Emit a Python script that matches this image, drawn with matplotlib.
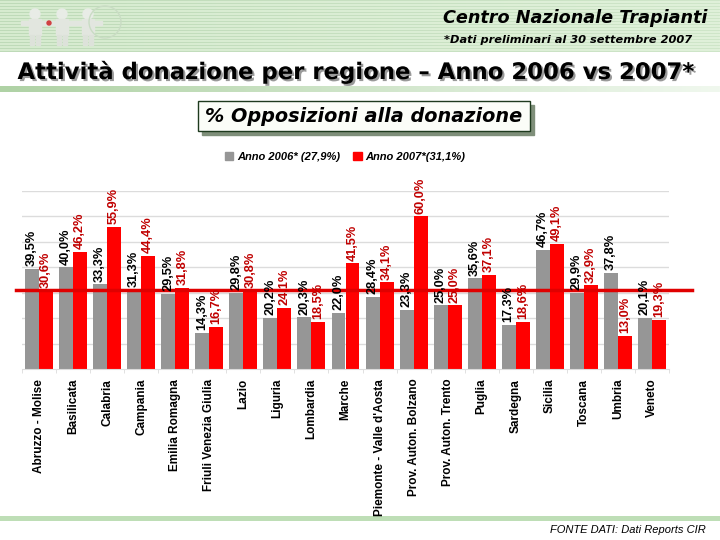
import numpy as np
import matplotlib

matplotlib.use("Agg")

import matplotlib.pyplot as plt
import matplotlib.patheffects as pe
from matplotlib.patches import Patch, Rectangle, Circle

plt.rcParams['font.family'] = ['Liberation Sans', 'DejaVu Sans']

# Data
regions = ["Abruzzo - Molise", "Basilicata", "Calabria", "Campania", "Emilia Romagna",
           "Friuli Venezia Giulia", "Lazio", "Liguria", "Lombardia", "Marche",
           "Piemonte - Valle d'Aosta", "Prov. Auton. Bolzano", "Prov. Auton. Trento",
           "Puglia", "Sardegna", "Sicilia", "Toscana", "Umbria", "Veneto"]
anno_2006 = [39.5, 40.0, 33.3, 31.3, 29.5, 14.3, 29.8, 20.2, 20.3, 22.0,
             28.4, 23.3, 25.0, 35.6, 17.3, 46.7, 29.9, 37.8, 20.1]
anno_2007 = [30.6, 46.2, 55.9, 44.4, 31.8, 16.7, 30.8, 24.1, 18.5, 41.5,
             34.1, 60.0, 25.0, 37.1, 18.6, 49.1, 32.9, 13.0, 19.3]
media_2006 = 27.9
media_2007 = 31.1

W, H = 720, 540
fig = plt.figure(figsize=(7.2, 5.4), dpi=100)

# --- background decorations in pixel coordinates ---
bg = fig.add_axes([0, 0, 1, 1], zorder=0)
bg.set_xlim(0, W)
bg.set_ylim(H, 0)
bg.axis("off")

# striped green header band
rows = np.arange(52)
stripe = np.where(rows % 3 == 0, 0.0, 1.0)[:, None]
grad = np.linspace(0, 1, W)[None, :]
c_dark = np.array([190, 218, 184]) / 255
c_light = np.array([214, 235, 207]) / 255
c_right = np.array([224, 241, 218]) / 255
base = c_light[None, None, :] * (1 - grad[..., None]) + c_right[None, None, :] * grad[..., None]
img = base * stripe[..., None] + (c_dark[None, None, :] * (1 - grad[..., None] * 0.5)
                                  + c_right[None, None, :] * grad[..., None] * 0.5) * (1 - stripe[..., None])
bg.imshow(img, extent=(0, W, 52, 0), aspect="auto", zorder=1)

# faded green separator lines
line_grad = np.linspace(0, 1, W)[None, :, None]
g0 = np.array([175, 210, 165]) / 255
g1 = np.array([240, 248, 238]) / 255
sep = g0 * (1 - line_grad) + g1 * line_grad
bg.imshow(sep, extent=(0, W, 92, 86), aspect="auto", zorder=1)
sep2 = np.repeat(np.array([190, 222, 182])[None, None, :] / 255, W, axis=1)
bg.imshow(sep2, extent=(0, W, 521, 516), aspect="auto", zorder=1)

# rough logo: three little figures
for cx in (35, 62, 88):
    bg.add_patch(Circle((cx, 14), 5, color="#e8ece6", zorder=2))
    bg.add_patch(Rectangle((cx - 6, 19), 12, 16, color="#e2e6df", zorder=2))
    bg.add_patch(Rectangle((cx - 5, 35), 4, 10, color="#dde2da", zorder=2))
    bg.add_patch(Rectangle((cx + 1, 35), 4, 10, color="#dde2da", zorder=2))
    bg.add_patch(Rectangle((cx - 14, 21), 28, 4, color="#e2e6df", zorder=2))
bg.add_patch(Circle((49, 23), 2, color="#d04040", zorder=3))
bg.add_patch(Circle((105, 22), 16, fill=False, ec="#c9dcc4", lw=1, zorder=2))

bg.text(707, 18, "Centro Nazionale Trapianti", ha="right", va="center",
        fontsize=12.7, fontweight="bold", fontstyle="italic", color="black", zorder=3,
        family="DejaVu Sans")
bg.text(692, 40, "*Dati preliminari al 30 settembre 2007", ha="right", va="center",
        fontsize=8.2, fontweight="bold", fontstyle="italic", color="black", zorder=3,
        family="DejaVu Sans")

bg.text(355, 72, "Attività donazione per regione – Anno 2006 vs 2007*", ha="center",
        va="center", fontsize=16.4, fontweight="bold", color="black", zorder=3,
        family="DejaVu Sans",
        path_effects=[pe.withSimplePatchShadow(offset=(1.5, -1.5), shadow_rgbFace="#999999", alpha=1)])

# subtitle box
bg.add_patch(Rectangle((202, 105), 332, 30, color="#7f8f7a", zorder=2))
bg.add_patch(Rectangle((198, 101), 332, 30, fc="#fbfdf8", ec="#1e3a1e", lw=1, zorder=3))
bg.text(364, 116, "% Opposizioni alla donazione", ha="center", va="center",
        fontsize=13.9, fontweight="bold", fontstyle="italic", color="black", zorder=4,
        family="DejaVu Sans")

bg.text(706, 530, "FONTE DATI: Dati Reports CIR", ha="right", va="center",
        fontsize=8, fontstyle="italic", color="black", zorder=3)

# --- chart ---
ax = fig.add_axes([22 / W, 1 - 369 / H, 647 / W, 178 / H], zorder=2)
ax.patch.set_alpha(0)
x = np.arange(len(regions))
bw = 0.41
off = 0.206
ax.bar(x - off, anno_2006, bw, color="#969696", zorder=2)
ax.bar(x + off, anno_2007, bw, color="#ff0000", zorder=2)

ax.set_xlim(-0.5, len(regions) - 0.5)
ax.set_ylim(0, 70)
ax.set_yticks(np.arange(10, 71, 10))
ax.yaxis.grid(True, color="#dcdcdc", lw=1)
ax.set_axisbelow(True)
ax.tick_params(axis="y", length=0, labelleft=False)
for s in ("left", "right", "top"):
    ax.spines[s].set_visible(False)
ax.spines["bottom"].set_color("#dcdcdc")

ax.set_xticks(x)
ax.set_xticklabels(regions, rotation=90, fontsize=8.5, fontweight="bold", va="top")
ax.tick_params(axis="x", which="major", length=0, pad=7)
ax.set_xticks(np.arange(-0.5, len(regions), 1), minor=True)
ax.tick_params(axis="x", which="minor", length=3, color="#dcdcdc")

# average line for 2007
ax.axhline(media_2007, xmin=-0.009, xmax=1.036, color="#e00000", lw=2.5, clip_on=False, zorder=3)

for xi, v in zip(x, anno_2006):
    ax.annotate(f"{v:.1f}%".replace(".", ","), xy=(xi - off, v), xytext=(0, 2),
                textcoords="offset points", rotation=90, ha="center", va="bottom",
                fontsize=9.2, fontweight="bold", color="black", zorder=4)
for xi, v in zip(x, anno_2007):
    ax.annotate(f"{v:.1f}%".replace(".", ","), xy=(xi + off, v), xytext=(0, 2),
                textcoords="offset points", rotation=90, ha="center", va="bottom",
                fontsize=9.2, fontweight="bold", color="#c00000", zorder=4)

handles = [Patch(color="#969696"), Patch(color="#ff0000")]
labels = [f"Anno 2006* ({media_2006:.1f}%)".replace(".", ","),
          f"Anno 2007*({media_2007:.1f}%)".replace(".", ",")]
fig.legend(handles, labels, loc="center", bbox_to_anchor=(345 / W, 1 - 157 / H), ncol=2,
           frameon=False, handlelength=0.8, handleheight=0.8, handletextpad=0.3,
           columnspacing=1.2, prop={"size": 8, "weight": "bold", "style": "italic"})

fig.savefig("out.png", dpi=100)
